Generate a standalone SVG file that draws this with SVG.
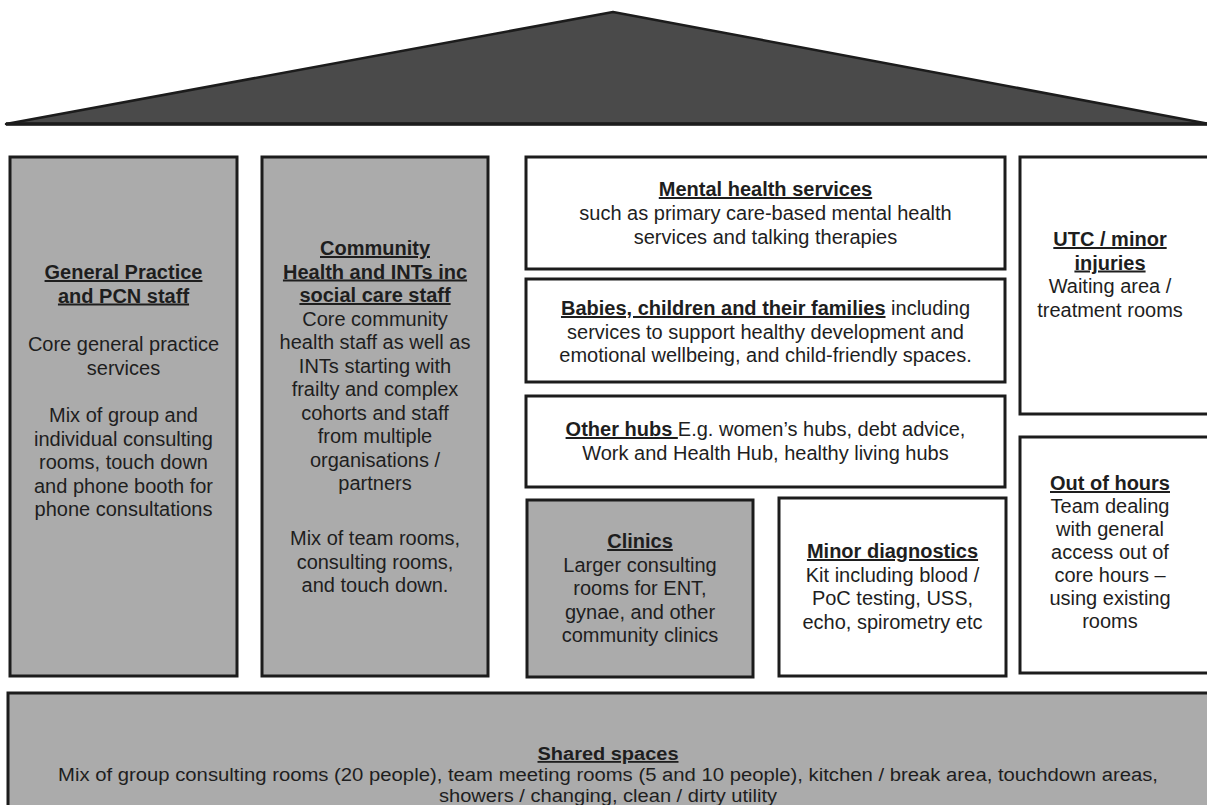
<svg xmlns="http://www.w3.org/2000/svg" width="1207" height="805" viewBox="0 0 1207 805">
  <style>
    .box { stroke: #1c1c1c; stroke-width: 3; }
    .grey { fill: #ababab; }
    .white { fill: #ffffff; }
    text { font-family: "Liberation Sans", Arial, sans-serif; font-size: 20px; fill: #1e1e1e; text-anchor: middle; }
    .h { font-weight: bold; text-decoration: underline; }
    .base { font-size: 18px; }
  </style>

  <rect x="0" y="0" width="1207" height="805" fill="#ffffff"/>

  <!-- roof -->
  <g id="roof">
    <polygon points="6,124 613,12 1210,124" fill="#4a4a4a" stroke="#1c1c1c" stroke-width="2.5" stroke-linejoin="round"/>
    <line x1="6" y1="124" x2="1207" y2="124" stroke="#1c1c1c" stroke-width="3.5"/>
  </g>

  <g id="connectors"></g>

  <!-- General Practice column -->
  <g id="general-practice">
    <rect class="box grey" x="10" y="157" width="227" height="519"/>
    <text x="123.5" y="279"><tspan class="h">General Practice</tspan></text>
    <text x="123.5" y="302.5"><tspan class="h">and PCN staff</tspan></text>
    <text x="123.5" y="351">Core general practice</text>
    <text x="123.5" y="374.5">services</text>
    <text x="123.5" y="422">Mix of group and</text>
    <text x="123.5" y="445.5">individual consulting</text>
    <text x="123.5" y="469">rooms, touch down</text>
    <text x="123.5" y="492.5">and phone booth for</text>
    <text x="123.5" y="516">phone consultations</text>
  </g>

  <!-- Community health column -->
  <g id="community-health">
    <rect class="box grey" x="262" y="157" width="226" height="519"/>
    <text x="375" y="255"><tspan class="h">Community</tspan></text>
    <text x="375" y="278.5"><tspan class="h">Health and INTs inc</tspan></text>
    <text x="375" y="302"><tspan class="h">social care staff</tspan></text>
    <text x="375" y="325.5">Core community</text>
    <text x="375" y="349">health staff as well as</text>
    <text x="375" y="372.5">INTs starting with</text>
    <text x="375" y="396">frailty and complex</text>
    <text x="375" y="419.5">cohorts and staff</text>
    <text x="375" y="443">from multiple</text>
    <text x="375" y="466.5">organisations /</text>
    <text x="375" y="490">partners</text>
    <text x="375" y="545">Mix of team rooms,</text>
    <text x="375" y="568.5">consulting rooms,</text>
    <text x="375" y="592">and touch down.</text>
  </g>

  <!-- Mental health services -->
  <g id="mental-health">
    <rect class="box white" x="526" y="157" width="479" height="112"/>
    <text x="765.5" y="196"><tspan class="h">Mental health services</tspan></text>
    <text x="765.5" y="220">such as primary care-based mental health</text>
    <text x="765.5" y="244">services and talking therapies</text>
  </g>

  <!-- Babies, children and families -->
  <g id="babies-children">
    <rect class="box white" x="526" y="279" width="479" height="103"/>
    <text x="765.5" y="315"><tspan class="h">Babies, children and their families</tspan> including</text>
    <text x="765.5" y="338.5">services to support healthy development and</text>
    <text x="765.5" y="362">emotional wellbeing, and child-friendly spaces.</text>
  </g>

  <!-- Other hubs -->
  <g id="other-hubs">
    <rect class="box white" x="526" y="396" width="479" height="91"/>
    <text x="765.5" y="436"><tspan class="h">Other hubs </tspan>E.g. women’s hubs, debt advice,</text>
    <text x="765.5" y="460">Work and Health Hub, healthy living hubs</text>
  </g>

  <!-- Clinics -->
  <g id="clinics">
    <rect class="box grey" x="527" y="500" width="226" height="177"/>
    <text x="640" y="548"><tspan class="h">Clinics</tspan></text>
    <text x="640" y="571.5">Larger consulting</text>
    <text x="640" y="595">rooms for ENT,</text>
    <text x="640" y="618.5">gynae, and other</text>
    <text x="640" y="642">community clinics</text>
  </g>

  <!-- Minor diagnostics -->
  <g id="minor-diagnostics">
    <rect class="box white" x="779" y="498" width="227" height="178"/>
    <text x="892.5" y="558"><tspan class="h">Minor diagnostics</tspan></text>
    <text x="892.5" y="581.5">Kit including blood /</text>
    <text x="892.5" y="605">PoC testing, USS,</text>
    <text x="892.5" y="628.5">echo, spirometry etc</text>
  </g>

  <!-- UTC / minor injuries -->
  <g id="utc">
    <rect class="box white" x="1020" y="157" width="195" height="257"/>
    <text x="1110" y="246"><tspan class="h">UTC / minor</tspan></text>
    <text x="1110" y="269.5"><tspan class="h">injuries</tspan></text>
    <text x="1110" y="293">Waiting area /</text>
    <text x="1110" y="316.5">treatment rooms</text>
  </g>

  <!-- Out of hours -->
  <g id="out-of-hours">
    <rect class="box white" x="1020" y="437" width="195" height="236"/>
    <text x="1110" y="490"><tspan class="h">Out of hours</tspan></text>
    <text x="1110" y="513">Team dealing</text>
    <text x="1110" y="536">with general</text>
    <text x="1110" y="559">access out of</text>
    <text x="1110" y="582">core hours –</text>
    <text x="1110" y="605">using existing</text>
    <text x="1110" y="628">rooms</text>
  </g>

  <!-- Shared spaces (foundation) -->
  <g id="shared-spaces">
    <rect class="box grey" x="8" y="693" width="1210" height="125"/>
    <text class="base" x="608" y="760" textLength="141" lengthAdjust="spacingAndGlyphs"><tspan class="h">Shared spaces</tspan></text>
    <text class="base" x="608" y="781" textLength="1100" lengthAdjust="spacingAndGlyphs">Mix of group consulting rooms (20 people), team meeting rooms (5 and 10 people), kitchen / break area, touchdown areas,</text>
    <text class="base" x="608" y="802" textLength="338" lengthAdjust="spacingAndGlyphs">showers / changing, clean / dirty utility</text>
  </g>
</svg>
